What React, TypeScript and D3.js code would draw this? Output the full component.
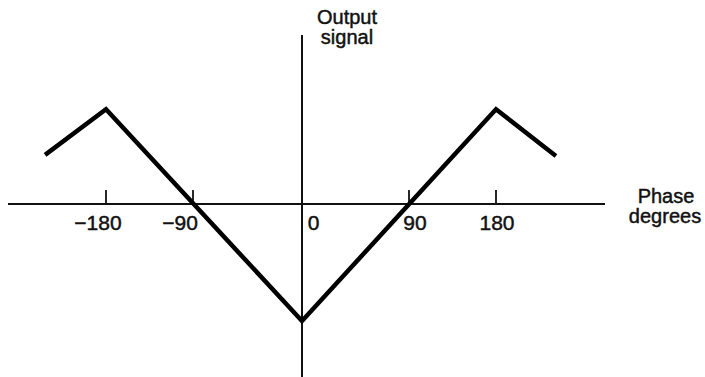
import React from "react";
import * as d3 from "d3";

// Data
const phase = [-243, -180, 0, 180, 242];
const signal = [0.42, 0.81, -1, 0.81, 0.41];
const tickValues = [-180, -90, 0, 90, 180];
const tickLabels = ["\u2212180", "\u221290", "0", "90", "180"];
const yAxisTitle = ["Output", "signal"];
const xAxisTitle = ["Phase", "degrees"];

const W = 705;
const H = 377;

export default function App() {
  // Polylinear scale reproducing the (hand-drawn) tick spacing of the reference
  const x = d3
    .scaleLinear()
    .domain(tickValues)
    .range([106, 193, 302, 409, 496]);
  const y = d3.scaleLinear().domain([-1, 0]).range([321, 204]);

  const pts: [number, number][] = phase.map((p, i) => [p, signal[i]]);
  const line = d3
    .line<[number, number]>()
    .x((d) => x(d[0]))
    .y((d) => y(d[1]));

  const y0 = y(0);
  const x0 = x(0);
  const labelDx = (v: number) => (v === 0 ? 11.5 : v === -90 ? -13 : v === 90 ? 6 : v === -180 ? -8 : 1);
  const font = "'Liberation Sans', Arial, Helvetica, sans-serif";
  const txt = { fill: "#111", stroke: "#111", strokeWidth: 0.45 };

  return (
    <svg
      width={W}
      height={H}
      style={{ position: "absolute", left: 0, top: 0, background: "#fff" }}
      fontFamily={font}
    >
      <rect width={W} height={H} fill="#fff" />
      {/* x axis */}
      <line x1={8} x2={605} y1={y0} y2={y0} stroke="#111" strokeWidth={2} />
      {tickValues.map((v) =>
        v === 0 ? null : (
          <line key={"t" + v} x1={x(v)} x2={x(v)} y1={y0 - 14} y2={y0} stroke="#111" strokeWidth={1.8} />
        )
      )}
      {tickValues.map((v, i) => (
        <text
          key={"l" + v}
          x={x(v) + labelDx(v)}
          y={230}
          textAnchor="middle"
          fontSize={21}
          {...txt}
        >
          {tickLabels[i]}
        </text>
      ))}
      {/* y axis */}
      <line x1={x0} x2={x0} y1={35} y2={H} stroke="#111" strokeWidth={2} />
      <text textAnchor="middle" fontSize={20} {...txt}>
        <tspan x={347} y={24}>{yAxisTitle[0]}</tspan>
        <tspan x={347} y={44}>{yAxisTitle[1]}</tspan>
      </text>
      <text textAnchor="middle" fontSize={20} {...txt}>
        <tspan x={666} y={203}>{xAxisTitle[0]}</tspan>
        <tspan x={665} y={223}>{xAxisTitle[1]}</tspan>
      </text>
      {/* signal */}
      <path
        d={line(pts) || ""}
        fill="none"
        stroke="#000"
        strokeWidth={4.5}
        strokeLinejoin="miter"
        strokeLinecap="butt"
      />
    </svg>
  );
}
